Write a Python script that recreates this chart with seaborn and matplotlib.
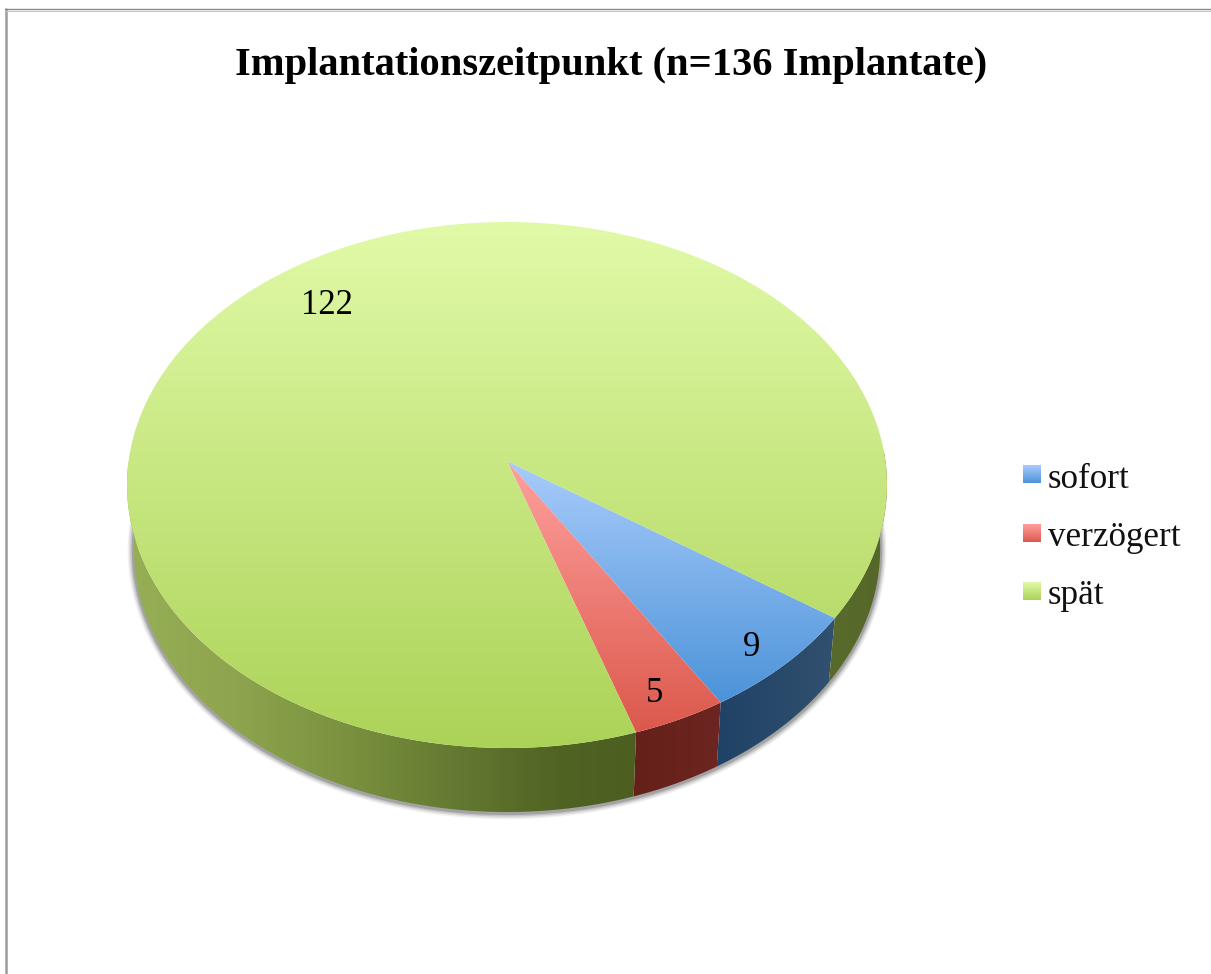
import numpy as np
import matplotlib
matplotlib.use('Agg')
import matplotlib.pyplot as plt
import seaborn as sns
from matplotlib.colors import LinearSegmentedColormap
from matplotlib.patches import Polygon

categories = ['sofort', 'verzögert', 'spät']
values = [9, 5, 122]
title = 'Implantationszeitpunkt (n=136 Implantate)'

top_colors = [['#A9CCFB', '#4C93D9'], ['#FFA19E', '#DC584C'], ['#E1FAA8', '#ACD358']]
wall_colors = [['#1F4266', '#32506F'], ['#66201A', '#6C2520'],
               ['#96AF56', '#8EA44E', '#7A923F', '#647A32', '#506323', '#4A5D1F', '#5C6E30', '#566828']]

sns.set_theme(style='white')
plt.rcParams['font.family'] = ['Liberation Serif', 'DejaVu Serif']

fig = plt.figure(figsize=(12.11, 9.74), dpi=100)

# the pie itself gives the angles, the hidden axes is only used for that
pie_ax = fig.add_axes([0, 0, 0.1, 0.1])
wedges, _ = pie_ax.pie(values, startangle=-34.8, counterclock=False, colors=[c[1] for c in top_colors])
pie_ax.set_visible(False)

ax = fig.add_axes([0, 0, 1, 1])
ax.axis('off')

cx, cy = 507, 461
a, b, k = 378.4, 260.8, 0.0913


def project(theta):
    # circle to tilted ellipse with perspective
    t = np.radians(theta)
    x, y = np.cos(t), np.sin(t)
    d = 1 + k * y
    return cx + a * x / d, cy - b * y / d


def gradient(cmap, extent, clip, horizontal=False):
    g = np.linspace(0, 1, 256).reshape(-1, 1)
    if horizontal:
        g = g.T
    im = ax.imshow(g, cmap=cmap, extent=extent, aspect='auto', zorder=clip.get_zorder(), origin='upper')
    im.set_clip_path(clip)


# frame
ax.plot([5.5, 5.5], [9, 974], color='#9C9C9C', lw=1.8, zorder=1)
ax.plot([5, 1211], [9.3, 9.3], color='#8A8A8A', lw=1.0, zorder=1)
ax.plot([6, 1211], [10.6, 10.6], color='#C8C8C8', lw=0.8, zorder=1)

# shadow under the wall
th = np.linspace(-185, 5, 400)
sx, sy = project(th)
sx = cx + (sx - cx) * 0.982
sy = sy + 64
for lw, al in zip([9, 7, 5, 3], [0.08, 0.12, 0.18, 0.3]):
    ax.plot(sx, sy + 1, color='#555555', lw=lw, alpha=al, zorder=2, solid_capstyle='butt')

# walls
for w, cols in zip(wedges, wall_colors):
    for shift in (0, -360):
        lo = max(w.theta1, -180 + shift)
        hi = min(w.theta2, 2 + shift)
        if hi <= lo:
            continue
        th = np.linspace(lo, hi, 200)
        x1, y1 = project(th)
        x2 = cx + (x1 - cx) * 0.982
        y2 = y1 + 64
        pts = np.r_[np.c_[x1, y1], np.c_[x2, y2][::-1]]
        patch = Polygon(pts, closed=True, fc='none', ec='none', zorder=3, transform=ax.transData)
        ax.add_patch(patch)
        cmap = LinearSegmentedColormap.from_list('wall', cols)
        if len(cols) > 2:
            gradient(cmap, (127, 887, 974, 0), patch, horizontal=True)
        else:
            gradient(cmap, (pts[:, 0].min(), pts[:, 0].max(), 974, 0), patch, horizontal=True)

# top face
for w, cols in zip(wedges, top_colors):
    th = np.linspace(w.theta1, w.theta2, 400)
    x, y = project(th)
    pts = np.r_[[[cx, cy]], np.c_[x, y]]
    patch = Polygon(pts, closed=True, fc='none', ec='none', zorder=4)
    ax.add_patch(patch)
    cmap = LinearSegmentedColormap.from_list('top', cols)
    gradient(cmap, (120, 895, pts[:, 1].max(), pts[:, 1].min()), patch)

# value labels
for w, v, pos in zip(wedges, values, [(752, 648), (655, 694), (327, 305)]):
    ax.text(pos[0], pos[1], str(v), ha='center', va='center', fontsize=25, color='black', zorder=6)

# legend
for name, cols, yc in zip(categories, top_colors, [474, 533, 591]):
    patch = Polygon([[1023, yc - 9], [1041, yc - 9], [1041, yc + 9], [1023, yc + 9]], closed=True,
                    fc='none', ec='none', zorder=5)
    ax.add_patch(patch)
    gradient(LinearSegmentedColormap.from_list('leg', cols), (1023, 1041, yc + 9, yc - 9), patch)
    ax.text(1048, yc + 5, name, ha='left', va='center', fontsize=25.2, color='#111111', zorder=6)

ax.text(611, 65, title, ha='center', va='center', fontsize=29.2, fontweight='bold', color='black', zorder=6)

ax.set_xlim(0, 1211)
ax.set_ylim(974, 0)
fig.savefig('out.png', dpi=100, facecolor='white')
